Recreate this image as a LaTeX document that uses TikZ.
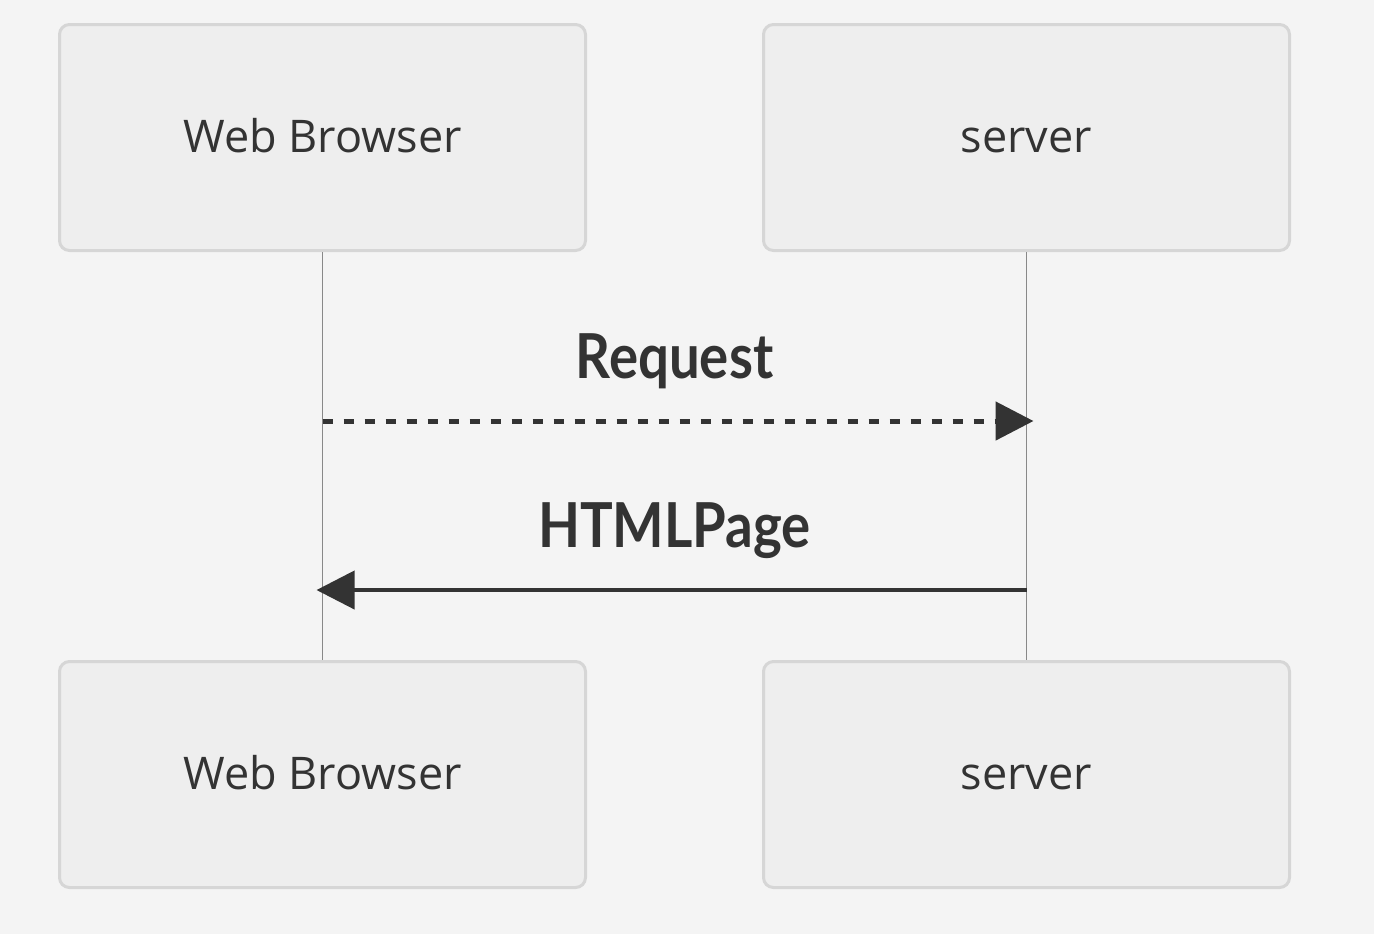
\documentclass[tikz,border=0pt]{standalone}
\usepackage{fontspec}
\setmainfont{Open Sans}
\newfontfamily\msgfont{Lato}[FakeStretch=0.88]
\usetikzlibrary{arrows.meta}
\definecolor{bgcol}{HTML}{F4F4F4}
\definecolor{boxfill}{HTML}{EEEEEE}
\definecolor{boxline}{HTML}{D6D6D6}
\definecolor{inkcol}{HTML}{333333}
\definecolor{lifecol}{HTML}{888888}
\tikzset{
  actor/.style={draw=boxline, fill=boxfill, line width=1.5pt, rounded corners=5pt,
    minimum width=263pt, minimum height=113pt, text height=18pt, text depth=3.5pt,
    text=inkcol, font=\fontsize{22.5}{27}\selectfont},
  lifeline/.style={draw=lifecol, line width=0.7pt},
  msg/.style={draw=inkcol, line width=2pt, -{Triangle[length=19pt,width=19pt]}},
  msglabel/.style={text=inkcol, font=\msgfont\bfseries\fontsize{31}{36}\selectfont}
}
\begin{document}
\begin{tikzpicture}[x=0.5pt, y=-0.5pt]
\fill[bgcol] (0,0) rectangle (1374,934);
\useasboundingbox (0,0) rectangle (1374,934);
\node[actor] (browserTop) at (322.5,137.5) {Web Browser};
\node[actor] (serverTop) at (1026.5,137.5) {server};
\node[actor] (browserBottom) at (322.5,774.5) {Web Browser};
\node[actor] (serverBottom) at (1026.5,774.5) {server};
\draw[lifeline] (browserTop.south) -- (browserBottom.north);
\draw[lifeline] (serverTop.south) -- (serverBottom.north);
\coordinate (reqFrom) at (322.5,421);
\coordinate (reqTo) at (1026.5,421);
\coordinate (pageFrom) at (1026.5,590);
\coordinate (pageTo) at (322.5,590);
\draw[msg, line width=2.5pt, dash pattern=on 5pt off 5.5pt, shorten >=-3.5pt] (reqFrom) -- (reqTo);
\draw[msg, shorten >=-3pt] (pageFrom) -- (pageTo);
\node[msglabel, anchor=base] (reqLabel) at (674.5,378) {Request};
\node[msglabel, anchor=base] (pageLabel) at (674.5,547) {HTMLPage};
\end{tikzpicture}
\end{document}
